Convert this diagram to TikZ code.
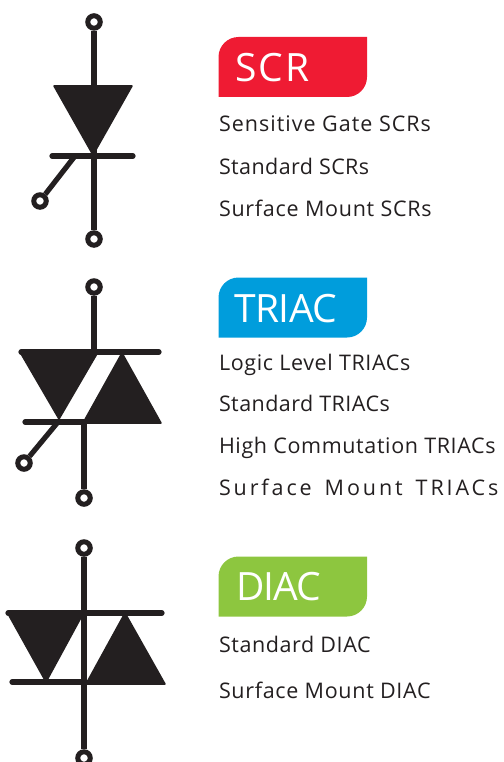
\documentclass[tikz,border=0pt]{standalone}
\usepackage{fontspec}
\setmainfont{Open Sans}
\definecolor{ink}{HTML}{231F20}
\definecolor{scrred}{HTML}{EF1B33}
\definecolor{triacblue}{HTML}{009DDC}
\definecolor{diacgreen}{HTML}{8DC63F}
\tikzset{
  term/.style={circle,draw=ink,line width=5pt,fill=white,minimum size=12.5pt,inner sep=0pt},
  wire/.style={draw=ink,line width=5.2pt},
  barline/.style={draw=ink,line width=5.2pt,line cap=round},
  tri/.style={fill=ink,draw=ink,line width=1.5pt,line join=round},
  item/.style={anchor=base west,inner sep=0pt,outer sep=0pt,text=ink,font=\fontsize{21.5}{24}\selectfont},
  head/.style={anchor=base west,inner sep=0pt,outer sep=0pt,text=white,font=\fontsize{39}{44}\selectfont},
}
\newcommand{\badge}[3]{\fill[#1] (218.5,#3) [rounded corners=20pt] -- (218.5,#2) [sharp corners] -- (367,#2) [rounded corners=20pt] -- (367,#3) [sharp corners] -- cycle;}
\newcommand{\spc}[1]{\addfontfeature{LetterSpace=#1}}
\begin{document}
\begin{tikzpicture}[x=1pt,y=-1pt]
\useasboundingbox (0,0) rectangle (503,762);
% SCR symbol
\node[term] (sa) at (94,22) {};
\node[term] (sk) at (94,239) {};
\node[term] (sg) at (40,201) {};
\coordinate (sbar) at (94,156);
\coordinate (sgj) at (75,156);
\fill[tri] (54,86) -- (132,86) -- (93,155) -- cycle;
\draw[wire] (sa) -- (sbar);
\draw[wire] (sbar) -- (sk);
\draw[barline] (52,156) -- (133,156);
\draw[wire] (sgj) -- (sg);
% TRIAC symbol
\node[term] (ta) at (94,287) {};
\node[term] (tk) at (84,498) {};
\node[term] (tg) at (24,463) {};
\coordinate (ttop) at (94,352);
\coordinate (tbot) at (84,422);
\coordinate (tgj) at (58,422);
\fill[tri] (20,352) -- (98,352) -- (59,419) -- cycle;
\fill[tri] (122,353) -- (161,423) -- (83,423) -- cycle;
\draw[wire] (ta) -- (ttop);
\draw[barline] (21,352) -- (159,352);
\draw[barline] (25,422) -- (84,422);
\draw[wire] (tbot) -- (tk);
\draw[wire] (tgj) -- (tg);
% DIAC symbol
\node[term] (da) at (84,548) {};
\node[term] (dk) at (84,758) {};
\fill[tri] (7,612) -- (84,612) -- (46,682) -- cycle;
\fill[tri] (125,613) -- (165,684) -- (86,684) -- cycle;
\draw[wire] (da) -- (dk);
\draw[barline] (8,613) -- (162,613);
\draw[barline] (12,682) -- (84,682);
% Badges
\badge{scrred}{37}{97}
\badge{triacblue}{277.5}{337.5}
\badge{diacgreen}{556.5}{616.5}
\node[head] (h1) at (235,82) {\spc{6}SCR};
\node[head] (h2) at (234,322.7) {\spc{-1}TRIAC};
\node[head] (h3) at (236.5,600.7) {\spc{-2.5}DIAC};
% Lists
\node[item] (a1) at (219,131.7) {\spc{4.65}Sensitive Gate SCRs};
\node[item] (a2) at (219,175) {\spc{1.9}Standard SCRs};
\node[item] (a3) at (219,216.7) {\spc{3.4}Surface Mount SCRs};
\node[item] (b1) at (219,370) {\spc{2.9}Logic Level TRIACs};
\node[item] (b2) at (219,411.7) {\spc{2.1}Standard TRIACs};
\node[item] (b3) at (219,453) {\spc{2.9}High Commutation TRIACs};
\node[item] (b4) at (219,495) {\spc{13.5}\spaceskip=13pt Surface Mount TRIACs};
\node[item] (c1) at (219,652) {\spc{2.7}Standard DIAC};
\node[item] (c2) at (219,698) {\spc{3.2}Surface Mount DIAC};
\end{tikzpicture}
\end{document}
